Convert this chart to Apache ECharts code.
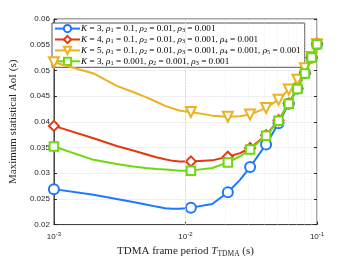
<!DOCTYPE html>
<html><head><meta charset="utf-8">
<script src="https://cdn.jsdelivr.net/npm/echarts@6/dist/echarts.min.js"></script>
<style>html,body{margin:0;padding:0;background:#fff}#c{width:350px;height:263px}</style>
</head><body><div id="c"></div>
<script>
// Data
var T = [0.001,0.002,0.003,0.004,0.005,0.006,0.007,0.008,0.009,0.010,0.011,0.016,0.021,0.026,0.031,0.041,0.051,0.061,0.071,0.081,0.091,0.1];
var markerT = [0.001,0.011,0.021,0.031,0.041,0.051,0.061,0.071,0.081,0.091,0.1];
var blueK3 = [0.0269,0.0258,0.0250,0.0244,0.0239,0.0235,0.0232,0.0231,0.0231,0.0232,0.0233,0.0240,0.0263,0.0287,0.0312,0.0356,0.0397,0.0435,0.0465,0.0495,0.0525,0.0551];
var redK4  = [0.0392,0.0368,0.0353,0.0344,0.0337,0.0331,0.0327,0.0324,0.0323,0.0323,0.0323,0.0325,0.0332,0.0339,0.0349,0.0374,0.0403,0.0436,0.0465,0.0495,0.0525,0.0552];
var yellowK5 = [0.0516,0.0494,0.0470,0.0458,0.0448,0.0439,0.0431,0.0426,0.0422,0.0420,0.0419,0.0412,0.0410,0.0411,0.0414,0.0427,0.0443,0.0463,0.0482,0.0504,0.0526,0.0551];
var greenK3 = [0.0352,0.0326,0.0318,0.0313,0.0310,0.0308,0.0307,0.0306,0.0305,0.0305,0.0305,0.0310,0.0321,0.0333,0.0346,0.0373,0.0402,0.0435,0.0464,0.0494,0.0525,0.0551];
var seriesNames = [
  '{i|K} = 3, {i|ρ}{s|1} = 0.1, {i|ρ}{s|2} = 0.01, {i|ρ}{s|3} = 0.001',
  '{i|K} = 4, {i|ρ}{s|1} = 0.1, {i|ρ}{s|2} = 0.01, {i|ρ}{s|3} = 0.001, {i|ρ}{s|4} = 0.001',
  '{i|K} = 5, {i|ρ}{s|1} = 0.1, {i|ρ}{s|2} = 0.01, {i|ρ}{s|3} = 0.001, {i|ρ}{s|4} = 0.001, {i|ρ}{s|5} = 0.001',
  '{i|K} = 3, {i|ρ}{s|1} = 0.001, {i|ρ}{s|2} = 0.001, {i|ρ}{s|3} = 0.001'
];
var minorX = [0.002,0.003,0.004,0.005,0.006,0.007,0.008,0.009,0.02,0.03,0.04,0.05,0.06,0.07,0.08,0.09];

var colors = ['#1f77ff','#e5380f','#edb120','#6fd80e'];
var symbols = ['emptyCircle','emptyDiamond','emptyTriangle','emptyRect'];
var rot = [0,0,180,0];
var sizes = [10,10,10,8.5];
var vals = [blueK3, redK4, yellowK5, greenK3];
var order = [0,1,2,3];

function mkData(v){
  return T.map(function(t,i){
    var isM = markerT.some(function(m){return Math.abs(m-t)<1e-9;});
    return isM ? {value:[t,v[i]]} : {value:[t,v[i]], symbol:'none'};
  });
}
var series = order.map(function(k){
  return {
    name: seriesNames[k], type:'line', data: mkData(vals[k]),
    smooth: false,
    symbol: symbols[k], symbolSize: sizes[k], symbolRotate: rot[k], showAllSymbol:true,
    lineStyle:{color:colors[k], width:2},
    itemStyle:{color:colors[k], borderWidth:1.8},
    z: 3+k
  };
});
series.push({
  type:'line', data:[], silent:true, z:1,
  markLine:{silent:true, symbol:['none','none'], label:{show:false},
    lineStyle:{color:'#d8d8d8', type:[1,2], width:0.6},
    data: minorX.map(function(x){return {xAxis:x};})}
});

var chart = echarts.init(document.getElementById('c'), null, {renderer:'canvas'});
var sansLbl = {color:'#262626', fontSize:8, fontFamily:'Liberation Sans'};
chart.setOption({
  animation:false,
  grid:{left:45, right:33, top:19, bottom:31.5, show:true, borderColor:'#262626', borderWidth:0.8, backgroundColor:'#fff'},
  legend:{
    left:52, top:23, orient:'vertical', itemGap:1.3, itemWidth:25, itemHeight:9,
    padding:[1,4,1,2], backgroundColor:'#fff', borderColor:'#262626', borderWidth:0.8,
    data: order.map(function(k){return seriesNames[k];}),
    textStyle:{fontFamily:'Liberation Serif', fontSize:9.2, color:'#000', padding:[0,0,0,-4],
      rich:{ i:{fontFamily:'Liberation Serif', fontStyle:'italic', fontSize:9.2},
             s:{fontFamily:'Liberation Serif', fontSize:6.3, padding:[4,0,0,0]} } }
  },
  xAxis:[{
    type:'log', logBase:10, min:0.001, max:0.1,
    name:'TDMA frame period {i|T}{sub|TDMA} (s)', nameLocation:'middle', nameGap:20,
    nameTextStyle:{fontFamily:'Liberation Serif', fontSize:11, color:'#262626',
      rich:{i:{fontFamily:'Liberation Serif', fontStyle:'italic', fontSize:11, color:'#262626'},
            sub:{fontFamily:'Liberation Serif', fontSize:7.5, color:'#262626', padding:[5,0,0,0]}}},
    axisLine:{lineStyle:{color:'#262626', width:0.8}},
    axisTick:{inside:true, length:3, lineStyle:{color:'#262626'}},
    splitLine:{show:true, lineStyle:{color:'#e6e6e6', width:0.6}},
    axisLabel:{margin:7, formatter:function(v){
        var e = Math.round(Math.log10(v));
        return '{b|10}{p|' + e + '}'; },
      rich:{b:{color:'#262626', fontSize:8, fontFamily:'Liberation Sans'},
            p:{color:'#262626', fontSize:6, fontFamily:'Liberation Sans', padding:[0,0,5,0]}}}
  }],
  yAxis:[{
    type:'value', min:0.02, max:0.06, interval:0.005,
    name:'Maximum statistical AoI (s)', nameLocation:'middle', nameGap:32,
    nameTextStyle:{fontFamily:'Liberation Serif', fontSize:11, color:'#262626'},
    axisLine:{show:true, lineStyle:{color:'#262626', width:0.8}},
    axisTick:{show:true, inside:true, length:3, lineStyle:{color:'#262626'}},
    splitLine:{show:true, lineStyle:{color:'#e6e6e6', width:0.6}},
    axisLabel:Object.assign({margin:4, formatter:function(v){return String(parseFloat(v.toFixed(4)));}}, sansLbl)
  },{
    type:'value', min:0.02, max:0.06, interval:0.005, position:'right',
    axisLine:{show:false}, axisTick:{show:true, inside:true, length:3, lineStyle:{color:'#262626'}},
    axisLabel:{show:false}, splitLine:{show:false}
  }],
  series: series
});
</script></body></html>
